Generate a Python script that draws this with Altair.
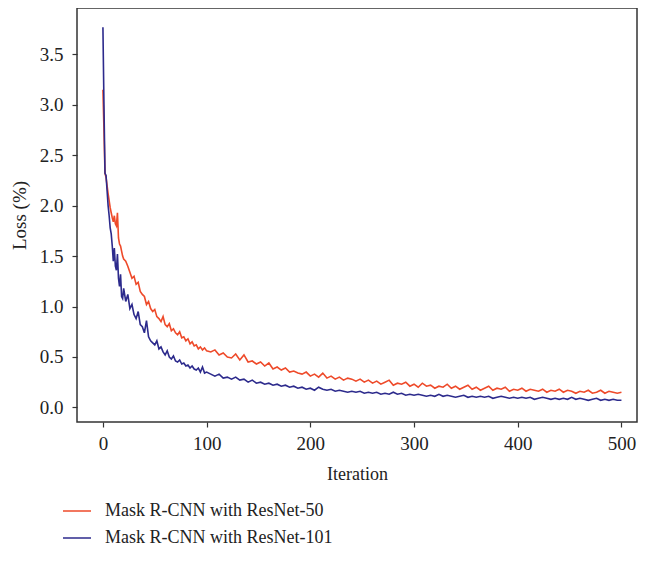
import altair as alt
import pandas as pd

iterations = list(range(0, 21)) + list(range(22, 101, 2)) + list(range(104, 501, 4))

resnet50 = [
    3.15, 2.75, 2.32, 2.28, 2.20, 2.12, 2.05, 1.98, 1.93, 1.88,
    1.84, 1.90, 1.82, 1.80, 1.93, 1.68, 1.62, 1.60, 1.55, 1.50,
    1.47,
    # 22..100 step 2
    1.45, 1.40, 1.34, 1.28, 1.30, 1.22, 1.24, 1.15, 1.12, 1.10,
    1.02, 1.05, 0.98, 0.95, 0.97, 0.90, 0.88, 0.85, 0.90, 0.82,
    0.80, 0.83, 0.76, 0.78, 0.74, 0.72, 0.75, 0.69, 0.70, 0.66,
    0.68, 0.63, 0.65, 0.61, 0.62, 0.58, 0.60, 0.57, 0.59, 0.56,
    # 104..500 step 4
    0.55, 0.57, 0.52, 0.54, 0.50, 0.49, 0.53, 0.47, 0.52, 0.45,
    0.46, 0.43, 0.45, 0.41, 0.44, 0.38, 0.40, 0.37, 0.39, 0.35,
    0.36, 0.34, 0.33, 0.35, 0.31, 0.33, 0.30, 0.34, 0.29, 0.31,
    0.28, 0.30, 0.27, 0.29, 0.28, 0.26, 0.28, 0.25, 0.27, 0.24,
    0.26, 0.23, 0.25, 0.27, 0.22, 0.24, 0.23, 0.25, 0.21, 0.23,
    0.20, 0.24, 0.21, 0.22, 0.19, 0.21, 0.20, 0.23, 0.19, 0.21,
    0.18, 0.20, 0.22, 0.18, 0.20, 0.17, 0.19, 0.21, 0.17, 0.19,
    0.18, 0.20, 0.16, 0.18, 0.17, 0.19, 0.16, 0.18, 0.17, 0.16,
    0.18, 0.15, 0.17, 0.16, 0.18, 0.15, 0.17, 0.16, 0.14, 0.16,
    0.15, 0.17, 0.14, 0.15, 0.17, 0.14, 0.16, 0.15, 0.14, 0.15,
]

resnet101 = [
    3.77, 3.00, 2.32, 2.30, 2.15, 2.00, 1.90, 1.78, 1.72, 1.60,
    1.45, 1.58, 1.40, 1.36, 1.52, 1.28, 1.20, 1.32, 1.10, 1.08,
    1.18,
    # 22..100 step 2
    1.05, 1.12, 0.98, 1.02, 0.92, 0.88, 0.95, 0.82, 0.80, 0.74,
    0.86, 0.70, 0.66, 0.64, 0.62, 0.66, 0.58, 0.60, 0.55, 0.52,
    0.56, 0.50, 0.48, 0.51, 0.46, 0.45, 0.47, 0.43, 0.44, 0.41,
    0.42, 0.39, 0.41, 0.38, 0.37, 0.39, 0.35, 0.40, 0.34, 0.35,
    # 104..500 step 4
    0.33, 0.31, 0.33, 0.29, 0.30, 0.28, 0.30, 0.27, 0.28, 0.25,
    0.27, 0.24, 0.25, 0.23, 0.24, 0.22, 0.23, 0.21, 0.22, 0.20,
    0.21, 0.19, 0.20, 0.18, 0.19, 0.17, 0.20, 0.18, 0.17, 0.18,
    0.16, 0.17, 0.16, 0.15, 0.16, 0.15, 0.16, 0.14, 0.15, 0.14,
    0.15, 0.13, 0.14, 0.13, 0.15, 0.13, 0.14, 0.12, 0.13, 0.12,
    0.13, 0.12, 0.11, 0.12, 0.11, 0.13, 0.11, 0.12, 0.11, 0.10,
    0.11, 0.12, 0.10, 0.11, 0.10, 0.11, 0.10, 0.11, 0.09, 0.10,
    0.11, 0.10, 0.09, 0.10, 0.09, 0.10, 0.09, 0.10, 0.08, 0.09,
    0.10, 0.09, 0.08, 0.09, 0.08, 0.09, 0.08, 0.10, 0.08, 0.09,
    0.08, 0.07, 0.08, 0.09, 0.07, 0.08, 0.07, 0.08, 0.07, 0.07,
]

series_names = ["Mask R-CNN with ResNet-50", "Mask R-CNN with ResNet-101"]
series_colors = ["#ee4a2a", "#2c2a8c"]

x_ticks = [0, 100, 200, 300, 400, 500]
y_ticks = [0.0, 0.5, 1.0, 1.5, 2.0, 2.5, 3.0, 3.5]

rows = []
for it, v in zip(iterations, resnet50):
    rows.append({"Iteration": it, "Loss": v, "Model": series_names[0]})
for it, v in zip(iterations, resnet101):
    rows.append({"Iteration": it, "Loss": v, "Model": series_names[1]})
df = pd.DataFrame(rows)

FONT = "Liberation Serif"

chart = alt.Chart(df).mark_line(strokeWidth=1.6).encode(
    x=alt.X("Iteration:Q",
            scale=alt.Scale(domain=[-25, 515], nice=False, zero=False),
            axis=alt.Axis(values=x_ticks, title="Iteration", format="d",
                          labelPadding=7, titlePadding=12, titleFontSize=18)),
    y=alt.Y("Loss:Q",
            scale=alt.Scale(domain=[-0.145, 3.96], nice=False, zero=False),
            axis=alt.Axis(values=y_ticks, title="Loss (%)", format=".1f",
                          labelPadding=9, titlePadding=10, titleFontSize=19)),
    color=alt.Color("Model:N",
                    scale=alt.Scale(domain=series_names, range=series_colors),
                    legend=alt.Legend(title=None, orient="none",
                                      legendX=-15, legendY=488,
                                      symbolType="stroke", symbolSize=784,
                                      symbolStrokeWidth=1.5,
                                      labelFont=FONT, labelFontSize=18,
                                      labelColor="#222222", labelLimit=400,
                                      labelOffset=13, rowPadding=3)),
    detail="Model:N",
).properties(
    width=560, height=414,
    autosize=alt.AutoSizeParams(type="none"),
    padding={"left": 69, "top": 0, "right": 3, "bottom": 128},
).configure_view(
    stroke="#333333", strokeWidth=1.5
).configure_axis(
    domain=False, grid=False,
    ticks=True, tickSize=5, tickColor="#333333", tickWidth=1.2,
    labelFont=FONT, labelFontSize=19, labelColor="#222222",
    titleFont=FONT, titleColor="#222222", titleFontWeight="normal",
)

chart.save("out.html", embed_options={"renderer": "svg", "actions": False})
